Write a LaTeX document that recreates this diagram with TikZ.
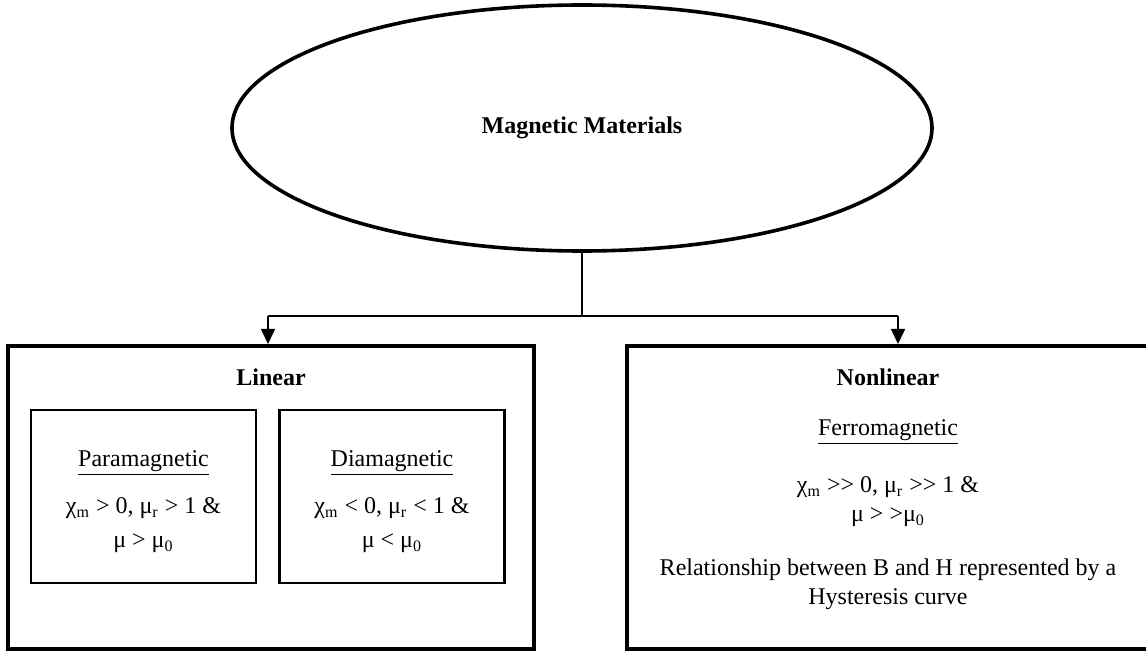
\documentclass[tikz,border=0pt]{standalone}
\usepackage{fontspec}
\setmainfont{Liberation Serif}
\usepackage{tikz}
\usetikzlibrary{arrows.meta, positioning, shapes.geometric}
\tikzset{
  every node/.style={font=\fontsize{12pt}{14.5pt}\selectfont},
  topic/.style={draw=black, ellipse, line width=1.8pt, font=\fontsize{12pt}{14.5pt}\selectfont\bfseries,
                minimum width=350pt, minimum height=123pt, inner sep=0pt},
  outerbox/.style={draw=black, line width=2pt, inner sep=0pt},
  innerbox/.style={draw=black, line width=1.3pt, inner sep=0pt,
                   minimum width=112.5pt, minimum height=86.5pt},
  link/.style={line width=0.8pt, color=black},
  flow/.style={-{Triangle[length=7.5pt,width=7pt]}, line width=0.8pt, color=black},
  lbl/.style={align=center, inner sep=0pt},
  head/.style={lbl, font=\fontsize{12pt}{14.5pt}\selectfont\bfseries},
}
\begin{document}
\begin{tikzpicture}[x=0.5pt,y=-0.5pt]
\useasboundingbox (0,0) rectangle (1146,652);
\node[topic] (mat) at (582,128) {Magnetic Materials};
\node[outerbox,minimum width=263pt,minimum height=151.5pt] (lin) at (271,497.5) {};
\node[outerbox,minimum width=261pt,minimum height=151.5pt] (nonlin) at (888,497.5) {};
\node[innerbox] (para) at (143.5,496.5) {};
\node[innerbox] (dia) at (392,496.5) {};
% labels
\node[head] (linT) at (271,377) {Linear};
\node[head] (nonlinT) at (888,377) {Nonlinear};
\node[lbl] (paraT) at (143.5,463) {\underline{Paramagnetic}};
\node[lbl] (paraE) at (143.5,525) {χ\textsubscript{m} > 0, μ\textsubscript{r} > 1 \&\\[2.5pt] μ > μ\textsubscript{0}};
\node[lbl] (diaT) at (392,463) {\underline{Diamagnetic}};
\node[lbl] (diaE) at (392,525) {χ\textsubscript{m} < 0, μ\textsubscript{r} < 1 \&\\[2.5pt] μ < μ\textsubscript{0}};
\node[lbl] (ferT) at (888,432) {\underline{Ferromagnetic}};
\node[lbl] (ferE) at (888,502) {χ\textsubscript{m} >{}> 0, μ\textsubscript{r} >{}> 1 \&\\ μ > >μ\textsubscript{0}};
\node[lbl] (ferR) at (888,584) {Relationship between B and H represented by a\\ Hysteresis curve};
% connectors
\coordinate (split) at (mat.south |- 0,316);
\coordinate (splitL) at (268,316);
\coordinate (splitR) at (898,316);
\draw[link] (mat.south) -- (split);
\draw[link] (splitL) -- (splitR);
\draw[flow] (splitL) -- (splitL |- lin.north);
\draw[flow] (splitR) -- (splitR |- nonlin.north);
\end{tikzpicture}
\end{document}
